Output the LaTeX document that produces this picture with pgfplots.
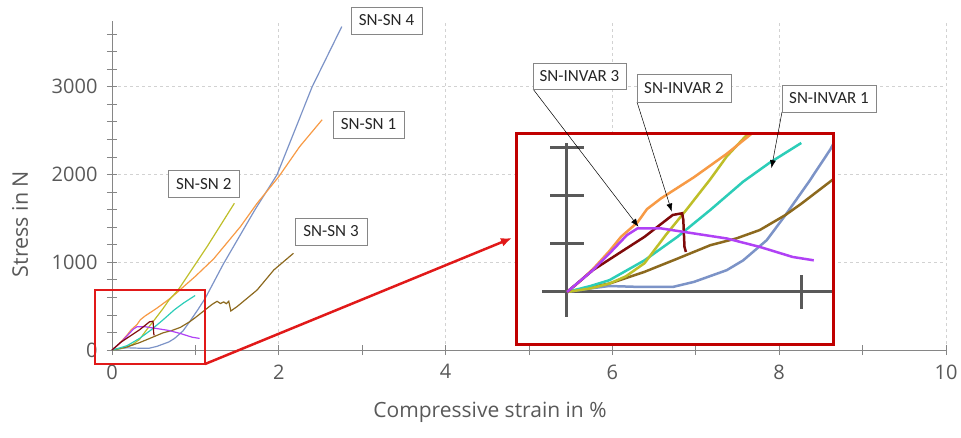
\documentclass[border=0pt]{standalone}
\usepackage{pgfplots}
\pgfplotsset{compat=1.18}
\usepackage{pgfplotstable}
\usepackage{fontspec}
\setmainfont{Open Sans}
\newfontfamily\boxfont{Carlito}
\usetikzlibrary{arrows.meta}

\definecolor{axisgray}{RGB}{134,134,134}
\definecolor{gridgray}{RGB}{210,210,210}
\definecolor{labgray}{RGB}{89,89,89}
\definecolor{insetax}{RGB}{89,89,89}
\definecolor{cOrange}{RGB}{247,154,69}
\definecolor{cYellow}{RGB}{190,190,40}
\definecolor{cCyan}{RGB}{44,205,184}
\definecolor{cBrown}{RGB}{140,105,30}
\definecolor{cDred}{RGB}{127,10,10}
\definecolor{cPurple}{RGB}{176,65,245}
\definecolor{cBlue}{RGB}{124,147,199}
\definecolor{boxred}{RGB}{192,0,0}
\definecolor{brightred}{RGB}{225,25,25}

% SN-SN 1
\pgfplotstableread{
x y
0 0
0.05 40
0.11 95
0.18 170
0.23 230
0.30 290
0.34 345
0.40 390
0.54 478
0.68 576
0.78 655
0.85 715
1.00 840
1.22 1040
1.54 1406
1.74 1672
2.00 1976
2.25 2318
2.52 2625
}\snsnA
% SN-SN 2
\pgfplotstableread{
x y
0 0
0.10 15
0.18 35
0.25 65
0.33 120
0.42 237
0.51 345
0.61 470
0.68 565
0.78 670
0.82 722
1.14 1178
1.467 1672
}\snsnB
% SN-SN 3
\pgfplotstableread{
x y
0 0
0.10 20
0.18 35
0.33 84
0.47 139
0.61 195
0.72 223
0.82 258
0.93 321
1.00 370
1.12 460
1.20 520
1.26 555
1.30 530
1.34 548
1.37 528
1.40 555
1.425 445
1.50 495
1.74 684
1.94 912
2.175 1102
}\snsnC
% SN-SN 4
\pgfplotstableread{
x y
0 0
0.10 15
0.18 25
0.31 21
0.45 21
0.54 42
0.68 91
0.75 132
0.85 216
0.93 321
1.03 460
1.12 593
1.335 980
1.715 1600
1.98 2000
2.40 3000
2.755 3686
}\snsnD
% SN-INVAR 1
\pgfplotstableread{
x y
0 0
0.10 25
0.18 49
0.33 132
0.47 230
0.61 342
0.75 460
0.86 537
0.997 621
}\invA
% SN-INVAR 2
\pgfplotstableread{
x y
0 0
0.11 91
0.23 167
0.33 230
0.45 321
0.49 328
0.495 300
0.50 188
0.506 167
}\invB
% SN-INVAR 3
\pgfplotstableread{
x y
0 0
0.11 91
0.18 160
0.255 237
0.30 265
0.40 265
0.54 244
0.68 223
0.82 188
0.96 146
1.05 132
}\invC

\begin{document}
\begin{tikzpicture}[x=1pt,y=1pt]
\path (0,0) rectangle (961,437);
\begin{axis}[
  at={(112pt,87pt)}, anchor=south west,
  scale only axis, width=834pt, height=329pt,
  xmin=0, xmax=10, ymin=0, ymax=3750,
  clip=false,
  axis lines=left,
  axis line style={-, draw=axisgray, line width=1pt},
  xtick={0,2,...,10}, minor xtick={1,3,...,9},
  ytick={0,1000,2000,3000}, minor ytick={200,400,600,800,1200,1400,1600,1800,2200,2400,2600,2800,3200,3400,3600},
  tick align=center, major tick length=10pt, minor tick length=10pt,
  every tick/.style={draw=axisgray, line width=0.8pt},
  grid=major, major grid style={dashed, draw=gridgray, line width=0.8pt},
  ticklabel style={font=\fontsize{20}{24}\selectfont, text=labgray},
  xticklabel style={yshift=-6pt},
  yticklabel style={xshift=-6pt},
  /pgf/number format/assume math mode=true,
  /pgf/number format/1000 sep={},
]
\addplot[cBlue, line width=1.2pt] table {\snsnD};
\addplot[cOrange, line width=1.2pt] table {\snsnA};
\addplot[cYellow, line width=1.2pt] table {\snsnB};
\addplot[cBrown, line width=1.2pt] table {\snsnC};
\addplot[cCyan, line width=1.2pt] table {\invA};
\addplot[cPurple, line width=1.2pt] table {\invC};
\addplot[cDred, line width=1.2pt] table {\invB};
\draw[brightred, line width=2pt] (axis cs:-0.204,-160) rectangle (axis cs:1.115,684);
\coordinate (smallbr) at (axis cs:1.115,-160);
\end{axis}

\draw[brightred, line width=2.5pt, -{Latex[length=11pt,width=9pt]}] (smallbr) -- (512,199);

\begin{axis}[
  at={(516pt,93pt)}, anchor=south west,
  scale only axis, width=317pt, height=211pt,
  xmin=-0.217, xmax=1.132, ymin=-216.7, ymax=662.5,
  axis background/.style={fill=white},
  xtick=\empty, ytick=\empty,
  axis line style={draw=boxred, line width=3pt},
  axis on top,
]
\draw[insetax, line width=3pt] (axis cs:-0.106,0) -- (axis cs:1.132,0);
\draw[insetax, line width=3pt] (axis cs:0,-104) -- (axis cs:0,620);
\draw[insetax, line width=3pt] (axis cs:-0.072,200) -- (axis cs:0.072,200);
\draw[insetax, line width=3pt] (axis cs:-0.072,400) -- (axis cs:0.072,400);
\draw[insetax, line width=3pt] (axis cs:-0.072,600) -- (axis cs:0.072,600);
\draw[insetax, line width=3pt] (axis cs:1,-70) -- (axis cs:1,70);
\addplot[cBlue, line width=2.5pt] table {\snsnD};
\addplot[cBrown, line width=2.5pt] table {\snsnC};
\addplot[cCyan, line width=2.5pt] table {\invA};
\addplot[cYellow, line width=2.5pt] table {\snsnB};
\addplot[cOrange, line width=2.5pt] table {\snsnA};
\addplot[cDred, line width=2.5pt] table {\invB};
\addplot[cPurple, line width=2.5pt] table {\invC};
\coordinate (t3) at (axis cs:0.304,272);
\coordinate (t2) at (axis cs:0.446,335);
\coordinate (t1) at (axis cs:0.870,516);
\end{axis}

\tikzset{lab/.style={draw=axisgray, fill=white, line width=0.9pt, inner sep=0pt,
  font=\boxfont\fontsize{17}{20}\selectfont, text=black!85}}
\draw[black, line width=0.5pt, -{Latex[length=8pt,width=6pt]}] (533,348) -- (t3);
\draw[black, line width=0.5pt, -{Latex[length=8pt,width=6pt]}] (637,335) -- (t2);
\draw[black, line width=0.5pt, -{Latex[length=8pt,width=6pt]}] (782,325) -- (t1);
\node[lab, minimum width=71pt, minimum height=27pt] at (386.5,416.5) {SN-SN 4};
\node[lab, minimum width=71pt, minimum height=27pt] at (368.5,312.5) {SN-SN 1};
\node[lab, minimum width=72pt, minimum height=27pt] at (331,205.5) {SN-SN 3};
\node[lab, minimum width=71pt, minimum height=27pt] at (203.8,253.3) {SN-SN 2};
\node[lab, minimum width=93pt, minimum height=26pt] at (579.5,361) {SN-INVAR 3};
\node[lab, minimum width=94pt, minimum height=28pt] at (684,349) {SN-INVAR 2};
\node[lab, minimum width=94pt, minimum height=27pt] at (829,338.5) {SN-INVAR 1};

\node[font=\fontsize{21}{25}\selectfont, text=labgray] at (490,25) {Compressive strain in \%};
\node[font=\fontsize{21.5}{25}\selectfont, text=labgray, rotate=90] at (20,213) {Stress in N};
\pgfresetboundingbox
\path[use as bounding box] (0,0) rectangle (961,437);
\end{tikzpicture}
\end{document}
